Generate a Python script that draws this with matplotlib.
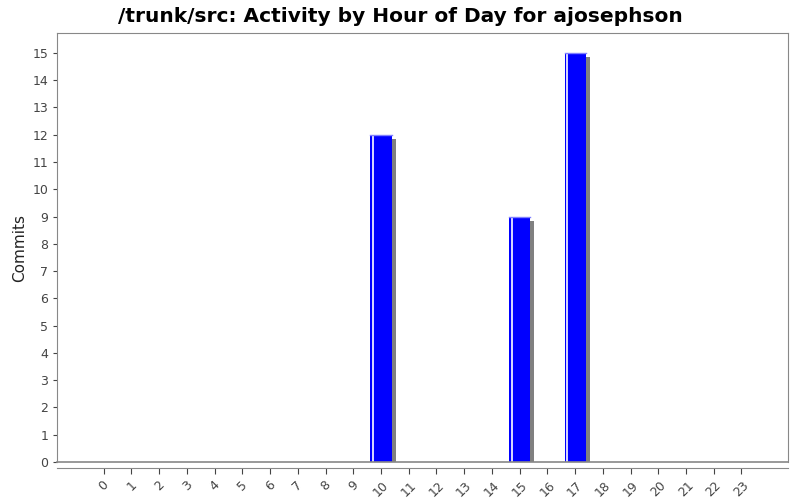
import matplotlib
matplotlib.use("Agg")
import matplotlib.pyplot as plt

# hourly commit counts
hours = [str(h) for h in range(24)]
commits = [0, 0, 0, 0, 0, 0, 0, 0, 0, 0, 12, 0, 0, 0, 0, 9, 0, 15, 0, 0, 0, 0, 0, 0]
yticks = list(range(16))

fig = plt.figure(figsize=(8, 5), dpi=100)
ax = fig.add_axes([0.0715, 0.076, 0.9135, 0.858])

x = list(range(len(hours)))
width = 0.76
dx, dy = 0.15, 0.15

# shadows first
for xi, v in zip(x, commits):
    if v > 0:
        ax.bar(xi + dx, v - dy, width=width, bottom=0, color="#808080", zorder=1)
bars = ax.bar(x, commits, width=width, color="#0000ff", edgecolor="none", zorder=2)
for xi, v in zip(x, commits):
    if v > 0:
        ax.plot([xi - width / 2 + 0.1, xi - width / 2 + 0.1], [0, v], color="white", lw=1.2, zorder=3)
        ax.plot([xi - width / 2, xi + width / 2], [v, v], color="#8080ff", lw=1, zorder=3)

ax.set_xlim(-1.68, 24.68)
ax.set_ylim(0, 15.73)
ax.set_xticks(x)
ax.set_yticks(yticks)
ax.tick_params(colors="#444444", labelsize=9, length=3)
ax.tick_params(axis="x", pad=4, labelrotation=45, length=4)
ax.set_xticklabels(hours)
for lbl in ax.get_xticklabels():
    lbl.set_ha("center")
    lbl.set_va("top")

for s in ax.spines.values():
    s.set_color("#888888")
ax.spines["bottom"].set_position(("outward", 4))
ax.axhline(0, color="#888888", lw=1.2, zorder=4, clip_on=False)

ax.set_ylabel("Commits", fontsize=11, color="#222222")
fig.suptitle("/trunk/src: Activity by Hour of Day for ajosephson", fontsize=14.5,
             fontweight="bold", y=0.985)

fig.savefig("out.png", dpi=100)
